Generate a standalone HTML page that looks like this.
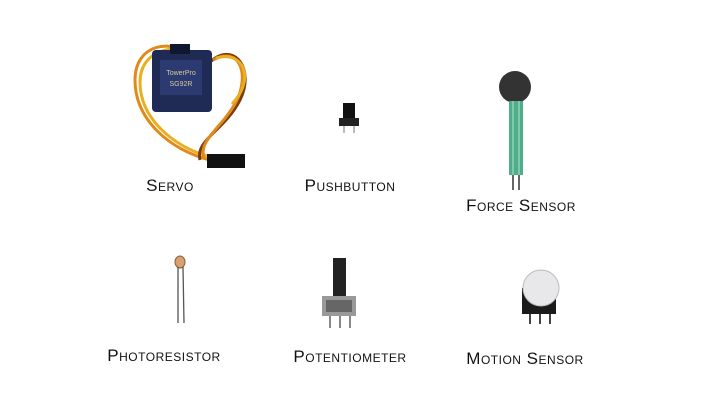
<!DOCTYPE html>
<html><head><meta charset="utf-8"><style>
html,body{margin:0;padding:0;background:#fff;}
body{width:720px;height:405px;overflow:hidden;position:relative;}
.l{position:absolute;font-family:"Liberation Sans",sans-serif;font-variant:small-caps;color:#111;font-size:17px;letter-spacing:0.5px;transform:translateX(-50%);white-space:nowrap;}
</style></head><body>
<svg width="720" height="405" style="position:absolute;left:0;top:0">
<!-- servo wires -->
<g fill="none" stroke-width="3">
<path d="M200 60 C170 35 135 45 135 80 C135 120 170 150 210 160" stroke="#e08a1a"/>
<path d="M205 58 C175 40 140 50 140 82 C140 118 172 146 210 157" stroke="#e8b020"/>
<path d="M210 62 C235 40 255 70 240 100 C225 130 195 140 200 160" stroke="#7a3b12"/>
<path d="M213 60 C240 45 250 75 236 102 C222 128 198 140 204 158" stroke="#e08a1a"/>
<path d="M216 58 C245 50 255 80 232 104" stroke="#e8b020"/>
</g>
<rect x="152" y="50" width="60" height="62" rx="4" fill="#1f2a55"/>
<rect x="160" y="60" width="42" height="35" fill="#2b3a70"/>
<text x="181" y="75" font-size="7" fill="#d9c79a" text-anchor="middle" font-family="Liberation Sans">TowerPro</text>
<text x="181" y="86" font-size="7" fill="#d9c79a" text-anchor="middle" font-family="Liberation Sans">SG92R</text>
<rect x="170" y="44" width="20" height="10" fill="#101830"/>
<rect x="207" y="154" width="38" height="14" fill="#111"/>
<!-- pushbutton -->
<rect x="343" y="103" width="12" height="18" fill="#111"/>
<rect x="339" y="118" width="20" height="8" fill="#222"/>
<line x1="344" y1="126" x2="344" y2="133" stroke="#777"/><line x1="354" y1="126" x2="354" y2="133" stroke="#777"/>
<!-- force sensor -->
<circle cx="515" cy="87" r="16" fill="#333"/>
<rect x="509" y="101" width="14" height="74" fill="#4fae8a"/>
<line x1="513" y1="101" x2="513" y2="175" stroke="#b7e0cf"/><line x1="519" y1="101" x2="519" y2="175" stroke="#b7e0cf"/>
<line x1="513" y1="175" x2="513" y2="190" stroke="#666" stroke-width="2"/><line x1="519" y1="175" x2="519" y2="190" stroke="#666" stroke-width="2"/>
<!-- photoresistor -->
<ellipse cx="180" cy="262" rx="5" ry="6" fill="#d9a070" stroke="#8a6040"/>
<line x1="178" y1="267" x2="178" y2="323" stroke="#555" stroke-width="1.3"/>
<line x1="183" y1="267" x2="184" y2="323" stroke="#555" stroke-width="1.3"/>
<!-- potentiometer -->
<rect x="333" y="258" width="13" height="42" fill="#222"/>
<rect x="322" y="296" width="34" height="20" fill="#999"/>
<rect x="326" y="300" width="26" height="12" fill="#666"/>
<line x1="330" y1="316" x2="330" y2="328" stroke="#888" stroke-width="2"/><line x1="340" y1="316" x2="340" y2="328" stroke="#888" stroke-width="2"/><line x1="350" y1="316" x2="350" y2="328" stroke="#888" stroke-width="2"/>
<!-- motion sensor -->
<rect x="522" y="288" width="34" height="26" fill="#1a1a1a"/>
<circle cx="541" cy="288" r="18" fill="#e8e8ea" stroke="#bbb"/>
<line x1="530" y1="314" x2="530" y2="324" stroke="#444" stroke-width="2"/><line x1="540" y1="314" x2="540" y2="324" stroke="#444" stroke-width="2"/><line x1="550" y1="314" x2="550" y2="324" stroke="#444" stroke-width="2"/>
</svg>
<div class="l" style="left:170px;top:176px">Servo</div>
<div class="l" style="left:350px;top:176px">Pushbutton</div>
<div class="l" style="left:521px;top:196px">Force Sensor</div>
<div class="l" style="left:164px;top:346px">Photoresistor</div>
<div class="l" style="left:350px;top:347px">Potentiometer</div>
<div class="l" style="left:525px;top:349px">Motion Sensor</div>
</body></html>
